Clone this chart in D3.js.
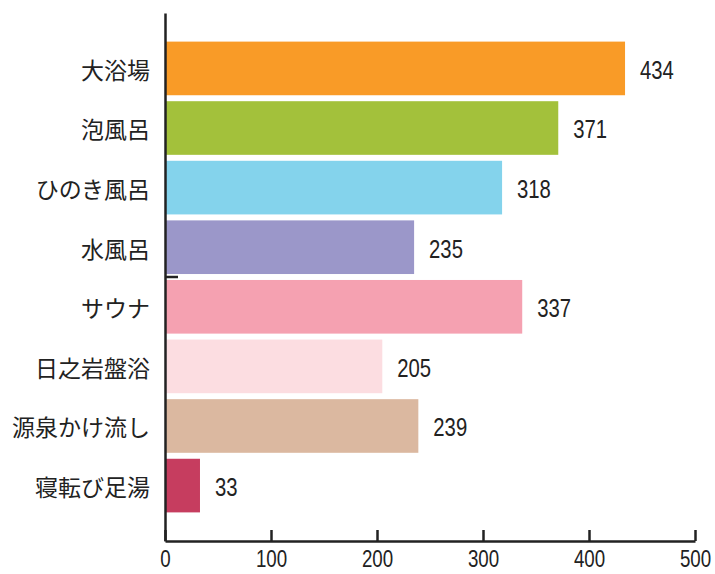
<!DOCTYPE html>
<html><head><meta charset="utf-8">
<script src="https://cdn.jsdelivr.net/npm/d3@7"></script>
<style>
html,body{margin:0;padding:0;background:#fff;}
.cat{font-family:"Noto Sans CJK JP","Noto Sans",sans-serif;font-size:23px;fill:#222;}
.num{font-family:"Liberation Sans",Arial,sans-serif;fill:#222;}
</style></head>
<body>
<svg id="chart" width="715" height="574"></svg>
<script>
const categories = ["大浴場","泡風呂","ひのき風呂","水風呂","サウナ","日之岩盤浴","源泉かけ流し","寝転び足湯"];
const values = [434,371,318,235,337,205,239,33];
const colors = ["#F99B27","#A3C13B","#84D3EC","#9B97C9","#F5A1B1","#FCDDE1","#DBB8A0","#C63D5F"];
const xTicks = [0,100,200,300,400,500];

const svg = d3.select("#chart");
const mLeft = 165, mRight = 695, mTop = 13, mBottom = 541;
const squeeze = 0.78;

const x = d3.scaleLinear().domain([0,500]).range([mLeft,mRight]);
const y = d3.scaleBand().domain(categories).range([mTop,mBottom]).paddingInner(0.1).paddingOuter(0.48);

svg.selectAll("rect.bar").data(categories).enter().append("rect")
  .attr("class","bar")
  .attr("x", x(0))
  .attr("y", d => y(d))
  .attr("width", (d,i) => x(values[i]) - x(0))
  .attr("height", y.bandwidth())
  .attr("fill", (d,i) => colors[i]);

svg.selectAll("text.val").data(categories).enter().append("text")
  .attr("class","num")
  .attr("transform", (d,i) => `translate(${x(values[i]) + 15},${y(d) + y.bandwidth()/2 + 1}) scale(${squeeze},1)`)
  .attr("dy","0.36em")
  .attr("font-size", 26)
  .text((d,i) => values[i]);

svg.selectAll("text.cat").data(categories).enter().append("text")
  .attr("class","cat")
  .attr("x", 150)
  .attr("y", d => y(d) + y.bandwidth()/2)
  .attr("dy","0.45em")
  .attr("text-anchor","end")
  .text(d => d);

// x axis
const xAxis = d3.axisBottom(x).tickValues(xTicks).tickSizeInner(-11).tickSizeOuter(0).tickPadding(9);
const gx = svg.append("g").attr("transform", `translate(0,${mBottom})`).call(xAxis);
gx.select(".domain").attr("stroke","#222").attr("stroke-width",2.5);
gx.selectAll(".tick line").attr("stroke","#222").attr("stroke-width",2.5);
gx.selectAll(".tick text").attr("class","num").attr("font-size",24).attr("fill","#222")
  .attr("transform", `scale(${squeeze},1)`);

// y axis line
const yAxis = d3.axisLeft(y).tickValues([]).tickSizeOuter(0);
const gy = svg.append("g").attr("transform", `translate(${mLeft},0)`).call(yAxis);
gy.select(".domain").attr("stroke","#222").attr("stroke-width",2.5);

// small stray tick between 水風呂 and サウナ
const bY = (y(categories[3]) + y.bandwidth() + y(categories[4])) / 2;
svg.append("line").attr("x1", mLeft).attr("x2", mLeft + 13)
  .attr("y1", bY).attr("y2", bY).attr("stroke","#222").attr("stroke-width",2.5);
</script>
</body></html>
